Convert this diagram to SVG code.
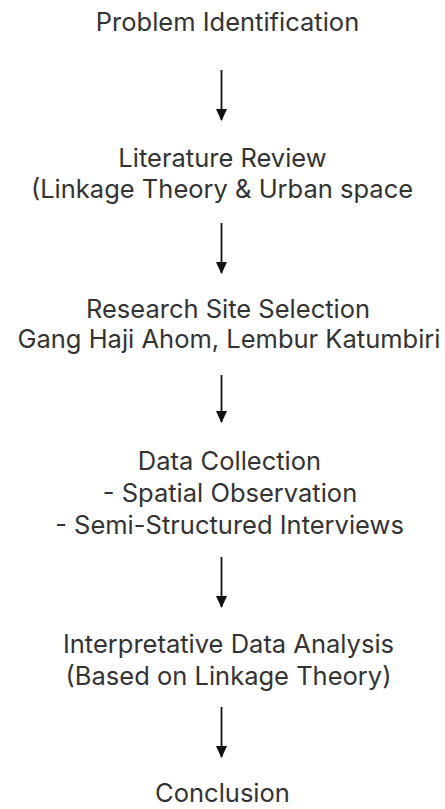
<svg xmlns="http://www.w3.org/2000/svg" width="445" height="809" viewBox="0 0 445 809">
<defs>
<style>
text{font-family:Inter,"Liberation Sans",sans-serif;font-size:25.5px;fill:#333;text-anchor:middle}
.c{stroke:#111;stroke-width:1.8;fill:none}
.h{fill:#111}
</style>
<marker id="ah" viewBox="0 0 12 12" refX="11" refY="6" markerWidth="12" markerHeight="12" markerUnits="userSpaceOnUse" orient="auto">
<path d="M0,0.5 L12,6 L0,11.5 Z" class="h"/>
</marker>
</defs>
<rect width="445" height="809" fill="#fff"/>
<g id="n1"><text x="227.5" y="31">Problem Identification</text></g>
<g id="n2"><text x="222.5" y="167">Literature Review</text><text x="222" y="198">(Linkage Theory &amp; Urban space</text></g>
<g id="n3"><text x="228" y="318">Research Site Selection</text><text x="229" y="348">Gang Haji Ahom, Lembur Katumbiri</text></g>
<g id="n4"><text x="229.5" y="470">Data Collection</text><text x="230" y="502">- Spatial Observation</text><text x="229.5" y="534">- Semi-Structured Interviews</text></g>
<g id="n5"><text x="228.5" y="653">Interpretative Data Analysis</text><text x="228.5" y="685">(Based on Linkage Theory)</text></g>
<g id="n6"><text x="222.5" y="802">Conclusion</text></g>
<g id="connectors">
<line class="c" x1="221.5" y1="70" x2="221.5" y2="120" marker-end="url(#ah)"/>
<line class="c" x1="221.5" y1="223" x2="221.5" y2="273" marker-end="url(#ah)"/>
<line class="c" x1="221.5" y1="375" x2="221.5" y2="422" marker-end="url(#ah)"/>
<line class="c" x1="221.5" y1="557" x2="221.5" y2="607" marker-end="url(#ah)"/>
<line class="c" x1="221.5" y1="707" x2="221.5" y2="757" marker-end="url(#ah)"/>
</g>
</svg>
